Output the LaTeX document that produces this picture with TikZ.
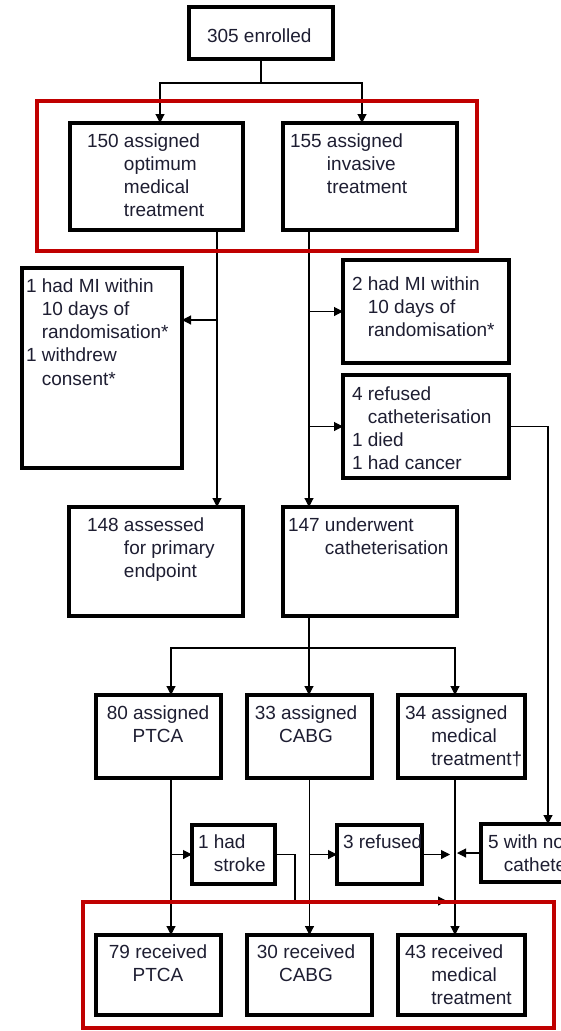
\documentclass[tikz,border=0pt]{standalone}
\usepackage{fontspec}
\setmainfont{Liberation Sans}
\usetikzlibrary{arrows.meta,calc}
\definecolor{txtc}{RGB}{30,30,50}
\definecolor{redc}{RGB}{192,0,0}
\tikzset{
  box/.style={draw=black, line width=3.2pt, fill=white, anchor=north west, inner sep=0pt, outer sep=0pt},
  txt/.style={inner sep=0pt, outer sep=0pt, font=\fontsize{19}{23.3}\selectfont, text=txtc},
  conn/.style={draw=black, line width=1.1pt},
  arr/.style={conn, -{Triangle[length=9pt,width=9pt]}},
  redbox/.style={draw=redc, line width=4.5pt}
}
\newcommand\bx[5]{\node[box,minimum width=#4pt,minimum height=#5pt] (#1) at (#2,#3) {};}
\newcommand\hang[1]{\begin{tabular}[t]{@{}l@{ }l@{}}#1\end{tabular}}
\newcommand\cen[1]{\begin{tabular}[t]{@{}c@{}}#1\end{tabular}}
\begin{document}
\begin{tikzpicture}[x=1pt,y=-1pt]
\useasboundingbox (0,0) rectangle (561,1031);
\clip (0,0) rectangle (561,1031);
\fill[white] (0,0) rectangle (561,1031);

% boxes
\bx{enr}{189}{7}{144}{52}
\bx{a150}{70}{123}{173}{107}
\bx{a155}{283}{123}{174}{107}
\bx{mi1}{22}{268}{160}{200}
\bx{mi2}{343}{260}{166}{103}
\bx{ref4}{343}{375}{166}{103}
\bx{as148}{69}{507}{174}{109}
\bx{ca147}{283}{507}{174}{109}
\bx{p80}{96}{695}{125}{83}
\bx{c33}{247}{695}{125}{83}
\bx{m34}{398}{695}{127}{83}
\bx{stk}{192}{825}{83}{59}
\bx{rf3}{337}{825}{85}{59}
\bx{no5}{481}{824}{134}{58}
\bx{r79}{96}{935}{125}{80}
\bx{r30}{247}{935}{125}{80}
\bx{r43}{398}{935}{127}{80}

% texts
\node[txt,anchor=base west] (enrt) at (207,42) {305 enrolled};
\node[txt,anchor=base west] (a150t) at (87,147) {\hang{150&assigned\\&optimum\\&medical\\&treatment}};
\node[txt,anchor=base west] (a155t) at (290,147) {\hang{155&assigned\\&invasive\\&treatment}};
\node[txt,anchor=base west] (mi1t) at (26,292) {\hang{1&had MI within\\&10 days of\\&randomisation*\\1&withdrew\\&consent*}};
\node[txt,anchor=base west] (mi2t) at (352,290) {\hang{2&had MI within\\&10 days of\\&randomisation*}};
\node[txt,anchor=base west] (ref4t) at (352,400) {\hang{4&refused\\&catheterisation\\1&died\\1&had cancer}};
\node[txt,anchor=base west] (as148t) at (87,531) {\hang{148&assessed\\&for primary\\&endpoint}};
\node[txt,anchor=base west] (ca147t) at (288,531) {\hang{147&underwent\\&catheterisation}};
\node[txt,anchor=base] (p80t) at (158,719) {\cen{80 assigned\\PTCA}};
\node[txt,anchor=base] (c33t) at (306,719) {\cen{33 assigned\\CABG}};
\node[txt,anchor=base west] (m34t) at (405,719) {\hang{34&assigned\\&medical\\&treatment†}};
\node[txt,anchor=base west] (stkt) at (198,848) {\hang{1&had\\&stroke}};
\node[txt,anchor=base west] (rf3t) at (343,848) {3 refused};
\node[txt,anchor=base west] (no5t) at (488,848) {\hang{5&with no\\&catheterisation}};
\node[txt,anchor=base] (r79t) at (158,958) {\cen{79 received\\PTCA}};
\node[txt,anchor=base] (r30t) at (306,958) {\cen{30 received\\CABG}};
\node[txt,anchor=base west] (r43t) at (405,958) {\hang{43&received\\&medical\\&treatment}};

% connectors
\coordinate (j1) at (261,83);
\draw[conn] (enr.south) -- (j1);
\draw[arr] (j1) -| ([xshift=3.5pt]a150.north);
\draw[arr] (j1) -| ([xshift=-8pt]a155.north);

\coordinate (L1) at ([xshift=60.5pt]a150.south);
\draw[arr] (L1) -- (L1 |- as148.north);
\coordinate (k1) at (217,320);
\draw[arr] (k1) -- (k1 -| mi1.east);

\coordinate (L2) at ([xshift=-61pt]a155.south);
\draw[arr] (L2) -- (L2 |- ca147.north);
\draw[arr] (L2 |- mi2.west) -- (mi2.west);
\draw[arr] (L2 |- ref4.west) -- (ref4.west);
\draw[conn,-{Triangle[length=9pt,width=9pt]}] (ref4.east) -| (no5.north);

\coordinate (L3) at ([xshift=-61pt]ca147.south);
\coordinate (j2) at (309,648);
\draw[conn] (L3) -- (j2);
\draw[arr] (j2) -| ([xshift=12.5pt]p80.north);
\draw[arr] (j2) -- (j2 |- c33.north);
\draw[arr] (j2) -| ([xshift=-6.5pt]m34.north);

\coordinate (P1) at ([xshift=12.5pt]p80.south);
\draw[arr] (P1) -- (P1 |- r79.north);
\draw[arr] (P1 |- stk.west) -- (stk.west);
\coordinate (P2) at (c33.south);
\draw[arr] (P2) -- (r30.north);
\draw[arr] (P2 |- rf3.west) -- (rf3.west);
\coordinate (P3) at ([xshift=-6.5pt]m34.south);
\draw[arr] (P3) -- (P3 |- r43.north);

\coordinate (s1) at (295,901);
\coordinate (s2) at (447,901);
\draw[arr] (stk.east) -| (s1) -- (s2);
\coordinate (s3) at (450,854.5);
\draw[arr] (rf3.east) -- (s3);
\coordinate (s4) at (457,853);
\draw[arr] (no5.west |- s4) -- (s4);

% red frames
\draw[redbox] (37,101) rectangle (477,251);
\draw[redbox] (83,902) rectangle (554,1028);
\end{tikzpicture}
\end{document}
